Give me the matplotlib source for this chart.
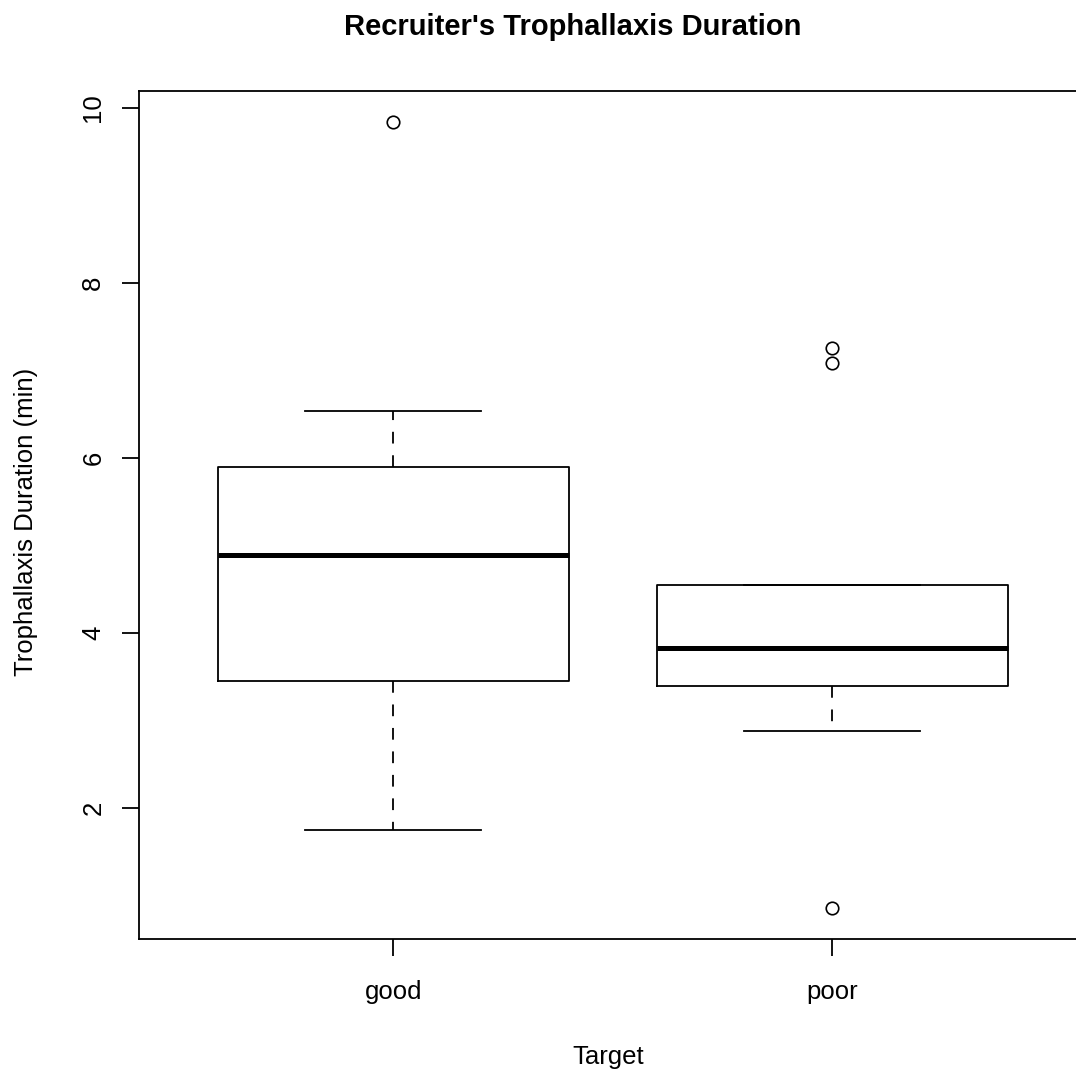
import matplotlib
matplotlib.use("Agg")
import matplotlib.pyplot as plt

# Data
categories = ["good", "poor"]
q1 = [3.45, 3.39]
med = [4.89, 3.83]
q3 = [5.90, 4.55]
whislo = [1.745, 2.88]
whishi = [6.54, 4.55]
fliers_good = [9.84]
fliers_poor = [7.26, 7.08, 0.855]
yticks = [2, 4, 6, 8, 10]

title = "Recruiter's Trophallaxis Duration"
xlabel = "Target"
ylabel = "Trophallaxis Duration (min)"

plt.rcParams['font.family'] = ['Liberation Sans', 'DejaVu Sans']

W, H = 1076, 1075
fig = plt.figure(figsize=(W / 100, H / 100), dpi=100)
left_px, right_px, top_px, bot_px = 138.7, 1086.8, 91.0, 939.3
ax = fig.add_axes([left_px / W, 1 - bot_px / H,
                   (right_px - left_px) / W, (bot_px - top_px) / H])

stats = []
for i, name in enumerate(categories):
    stats.append(dict(label=name, q1=q1[i], med=med[i], q3=q3[i],
                      whislo=whislo[i], whishi=whishi[i],
                      fliers=[fliers_good, fliers_poor][i]))

lw = 1.3
ax.bxp(stats, positions=[1, 2], widths=0.8, showfliers=True,
       boxprops=dict(color='black', linewidth=lw),
       whiskerprops=dict(color='black', linewidth=lw, linestyle=(0, (6.5, 6.5))),
       capprops=dict(color='black', linewidth=lw),
       medianprops=dict(color='black', linewidth=3.6, solid_capstyle='butt'),
       flierprops=dict(marker='o', markerfacecolor='none', markeredgecolor='black',
                       markersize=9, markeredgewidth=1.2, linestyle='none'))

fs = 18.5
ax.set_xlim(0.42, 2.58)
ax.set_ylim(0.4994, 10.194)
ax.set_yticks(yticks)
ax.set_yticklabels([str(v) for v in yticks], rotation=90, va='center')
ax.set_xticks([1, 2])
ax.set_xticklabels(categories)
ax.tick_params(axis='both', direction='out', length=12, width=lw, labelsize=fs,
               color='black')
ax.tick_params(axis='x', pad=17)
ax.tick_params(axis='y', pad=12)
for s in ax.spines.values():
    s.set_linewidth(lw)
    s.set_color('black')

fig.text(572.5 / W, 1 - 35 / H, title, ha='center', va='baseline',
         fontsize=21, fontweight='bold')
fig.text(608.5 / W, 1 - 1064 / H, xlabel, ha='center',
         va='baseline', fontsize=fs)
fig.text(33 / W, 1 - 522 / H, ylabel, ha='center', va='baseline',
         rotation=90, fontsize=fs, rotation_mode='anchor')

fig.savefig("out.png", dpi=100)
